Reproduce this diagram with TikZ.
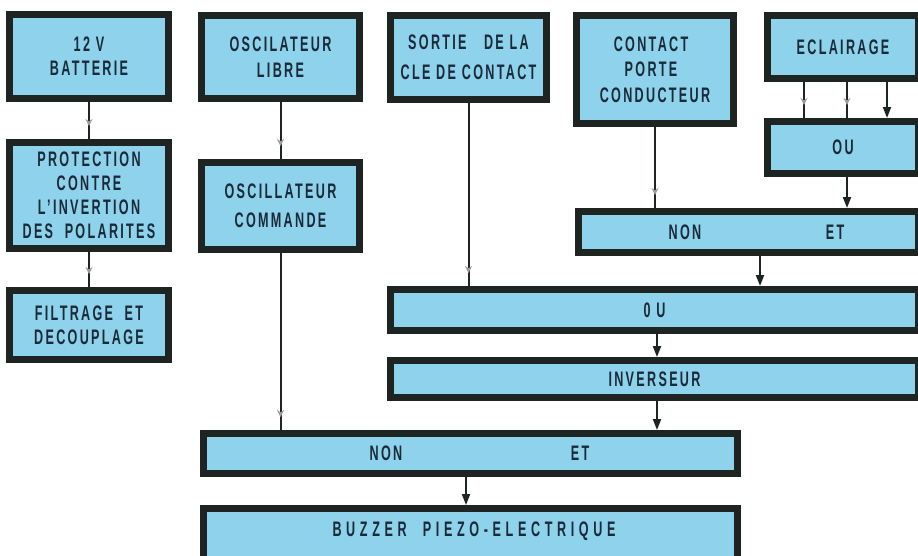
\documentclass[tikz,border=0pt]{standalone}
\usepackage{fontspec}
\setmainfont{Liberation Sans}[FakeStretch=0.6, LetterSpace=11, UprightFont=*, BoldFont=* Bold]
\usetikzlibrary{arrows.meta,decorations.markings}
\definecolor{bfill}{HTML}{8ED2EC}
\definecolor{bdark}{HTML}{1E2421}
\definecolor{btext}{HTML}{1A2A38}
\tikzset{
  x=1pt, y=-1pt,
  blk/.style={draw=bdark, fill=bfill, line width=7pt, rectangle, anchor=north west,
    inner sep=0pt, text=btext, align=center, font=\fontsize{21}{24}\selectfont\bfseries},
  lbl/.style={text=btext, inner sep=0pt, font=\fontsize{21}{24}\selectfont\bfseries},
  wire/.style={draw=bdark, line width=2pt},
  strong/.style={wire, -{Triangle[length=11pt,width=8pt]}},
  faint/.style={wire, postaction={decorate},
    decoration={markings, mark=at position -13pt with {\arrow[bdark!45]{Stealth[length=7pt,width=7pt]}}}},
}
\begin{document}
\begin{tikzpicture}
\useasboundingbox[fill=white] (0,0) rectangle (918,555);
\clip (0,0) rectangle (918,555);
% left column
\node[blk, minimum width=159pt, minimum height=84pt] (bat) at (6,11) {12 V\\BATTERIE};
\node[blk, minimum width=159pt, minimum height=106pt] (prot) at (6,139) {PROTECTION\\CONTRE\\L'INVERTION\\DES\ \ POLARITES};
\node[blk, minimum width=159pt, minimum height=69pt] (filt) at (6,287) {FILTRAGE\ \ ET\\DECOUPLAGE};
% second column
\node[blk, minimum width=158pt, minimum height=83pt, font=\fontsize{21}{26}\selectfont\bfseries] (libre) at (198,12) {OSCILATEUR\\LIBRE};
\node[blk, minimum width=158pt, minimum height=87pt, font=\fontsize{21}{29}\selectfont\bfseries] (cmd) at (198,159) {OSCILLATEUR\\COMMANDE};
% third column
\node[blk, minimum width=156pt, minimum height=84pt, font=\fontsize{21}{30}\selectfont\bfseries] (sortie) at (387,12) {SORTIE\ \ \ DE LA\\CLE DE CONTACT};
\node[blk, minimum width=157pt, minimum height=108pt, font=\fontsize{21}{25.5}\selectfont\bfseries] (contact) at (573,12) {\hspace*{-8pt}CONTACT\\\hspace*{-8pt}PORTE\\CONDUCTEUR};
\node[blk, minimum width=151pt, minimum height=63pt] (eclair) at (764,12) {ECLAIRAGE};
\node[blk, minimum width=151pt, minimum height=52pt] (ou1) at (764,118) {OU};
% wide boxes
\node[blk, minimum width=340pt, minimum height=41pt] (nonet1) at (575,208) {};
\node[lbl] (nonet1a) at (685,232) {NON};
\node[lbl] (nonet1b) at (835,232) {ET};
\node[blk, minimum width=528pt, minimum height=41pt] (ou2) at (387,286) {0 U};
\node[blk, minimum width=528pt, minimum height=37pt] (inv) at (387,357) {INVERSEUR};
\node[blk, minimum width=534pt, minimum height=40pt] (nonet2) at (200,430) {};
\node[lbl] (nonet2a) at (386,453) {NON};
\node[lbl] (nonet2b) at (580,453) {ET};
\node[blk, minimum width=534pt, minimum height=60pt] (buzz) at (200,505) {};
\node[lbl] (buzza) at (474,531) {\addfontfeature{LetterSpace=22}BUZZER\ \ PIEZO-ELECTRIQUE};
% coordinates for connector x positions
\coordinate (xe1) at (804,0);
\coordinate (xe2) at (847,0);
\coordinate (xe3) at (887,0);
\coordinate (xn1) at (760,0);
\coordinate (xinv) at (657,0);
\coordinate (xbz) at (466,0);
% connectors
\draw[faint] (bat.south) -- (prot.north);
\draw[faint] (prot.south) -- (filt.north);
\draw[faint] (libre.south) -- (cmd.north);
\draw[faint] (cmd.south) -- (cmd.south |- nonet2.north);
\draw[faint] (sortie.south) -- (sortie.south |- ou2.north);
\draw[faint] (contact.south) -- (contact.south |- nonet1.north);
\draw[faint] (xe1 |- eclair.south) -- (xe1 |- ou1.north);
\draw[faint] (xe2 |- eclair.south) -- (xe2 |- ou1.north);
\draw[strong] (xe3 |- eclair.south) -- (xe3 |- ou1.north);
\draw[strong] (xe2 |- ou1.south) -- (xe2 |- nonet1.north);
\draw[strong] (xn1 |- nonet1.south) -- (xn1 |- ou2.north);
\draw[strong] (xinv |- ou2.south) -- (xinv |- inv.north);
\draw[strong] (xinv |- inv.south) -- (xinv |- nonet2.north);
\draw[strong] (xbz |- nonet2.south) -- (xbz |- buzz.north);
\end{tikzpicture}
\end{document}
